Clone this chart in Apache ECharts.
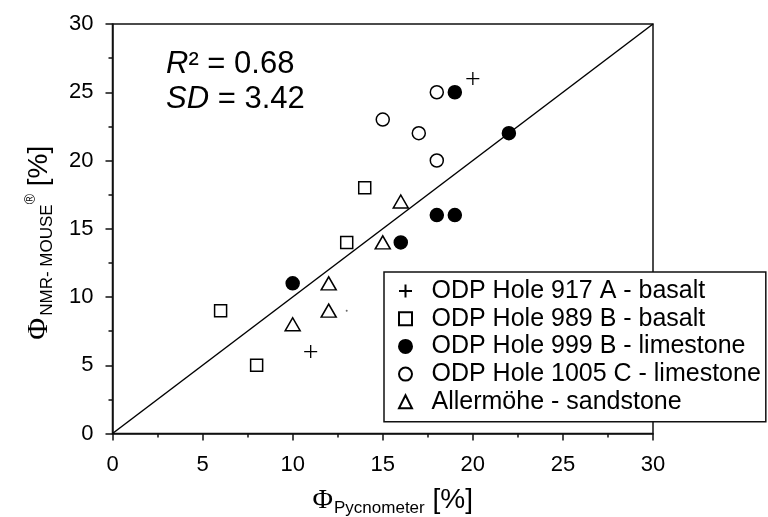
<!DOCTYPE html>
<html>
<head>
<meta charset="utf-8">
<script src="https://cdn.jsdelivr.net/npm/echarts@6/dist/echarts.min.js"></script>
<style>
  html, body { margin: 0; padding: 0; background: #fff; }
  #chart { width: 768px; height: 517px; }
</style>
</head>
<body>
<div id="chart"></div>
<script>
// Porosity from the pycnometer (x) against porosity from the NMR-MOUSE (y), in %
const seriesNames = [
  'ODP Hole 917 A - basalt',
  'ODP Hole 989 B - basalt',
  'ODP Hole 999 B - limestone',
  'ODP Hole 1005 C - limestone',
  'Allermöhe - sandstone'
];
const hole917A = [[20, 26], [11, 6]];
const hole989B = [[14, 18], [13, 14], [6, 9], [8, 5]];
const hole999B = [[19, 25], [22, 22], [18, 16], [19, 16], [16, 14], [10, 11]];
const hole1005C = [[18, 25], [15, 23], [17, 22], [18, 20]];
const allermoehe = [[16, 17], [15, 14], [12, 11], [12, 9], [10, 8]];
const strayDot = [[13, 9]];
const identityLine = [[0, 0], [30, 30]];
const statsLines = ['{i|R}² = 0.68', '{i|SD} = 3.42'];

const sans = 'Liberation Sans, Arial, sans-serif';
const serif = 'Liberation Serif, Times New Roman, serif';
const ink = '#111';

const plusPath = 'path://M0,5L10,5M5,0L5,10';

function scatter(name, data, symbol, size, fill, border) {
  return {
    name: name,
    type: 'scatter',
    data: data,
    symbol: symbol,
    symbolSize: size,
    z: 3,
    itemStyle: { color: fill, borderColor: '#000', borderWidth: border, opacity: 1 },
    emphasis: { disabled: true }
  };
}

const chart = echarts.init(document.getElementById('chart'), null, { renderer: 'canvas' });

const axisCommon = {
  type: 'value',
  min: 0,
  max: 30,
  interval: 5,
  splitLine: { show: false },
  axisLine: { show: true, onZero: false, lineStyle: { color: ink, width: 1.5 } },
  axisTick: { show: true, inside: false, length: 7, lineStyle: { color: ink, width: 1.5 } },
  minorTick: { show: true, splitNumber: 2, length: 4, lineStyle: { color: ink, width: 1.5 } },
  axisLabel: { color: '#000', fontSize: 22, fontFamily: sans },
  nameLocation: 'middle'
};

chart.setOption({
  animation: false,
  backgroundColor: '#fff',
  grid: {
    left: 112.5, right: 115, top: 24, bottom: 83.5,
    outerBoundsMode: 'none',
    containLabel: false,
    show: true, borderColor: ink, borderWidth: 1.5, backgroundColor: 'transparent'
  },
  title: {
    text: statsLines.join('\n'),
    left: 166,
    top: 47,
    padding: 0,
    textStyle: {
      fontSize: 31, fontFamily: sans, fontWeight: 'normal', color: '#000', lineHeight: 35,
      rich: { i: { fontStyle: 'italic', fontSize: 31, fontFamily: sans, color: '#000', lineHeight: 35 } }
    }
  },
  legend: {
    data: seriesNames,
    orient: 'vertical',
    left: 384,
    top: 272,
    padding: [6.5, 5, 7.5, 12.5],
    itemGap: 2.7,
    itemWidth: 13,
    itemHeight: 13,
    selectedMode: false,
    backgroundColor: '#fff',
    borderColor: ink,
    borderWidth: 1.5,
    borderRadius: 0,
    z: 10,
    textStyle: { fontSize: 25, fontFamily: sans, color: '#000', padding: [0, 0, 0, 14.5] }
  },
  xAxis: Object.assign({}, axisCommon, {
    axisLabel: Object.assign({}, axisCommon.axisLabel, { margin: 20 }),
    name: '{phi|Φ}{sub|Pycnometer}{br| [%]}',
    nameGap: 50,
    nameTextStyle: {
      padding: [0, 0, 0, 20],
      rich: {
        phi: { fontFamily: serif, fontSize: 28, color: '#000', lineHeight: 34 },
        sub: { fontFamily: sans, fontSize: 17, color: '#000', padding: [16, 0, 0, 1], lineHeight: 34 },
        br: { fontFamily: sans, fontSize: 28, color: '#000', lineHeight: 34 }
      }
    }
  }),
  yAxis: Object.assign({}, axisCommon, {
    axisLabel: Object.assign({}, axisCommon.axisLabel, { margin: 19 }),
    name: '{phi|Φ}{sub|NMR- MOUSE}{sup|®}{br| [%]}',
    nameGap: 56,
    nameRotate: 90,
    nameTextStyle: {
      padding: [0, 28, 0, 0],
      rich: {
        phi: { fontFamily: serif, fontSize: 30, color: '#000', lineHeight: 34 },
        sub: { fontFamily: sans, fontSize: 17, color: '#000', padding: [16, 0, 0, 2], lineHeight: 34 },
        sup: { fontFamily: sans, fontSize: 14, color: '#000', padding: [0, 0, 16, 0], lineHeight: 34 },
        br: { fontFamily: sans, fontSize: 28, color: '#000', lineHeight: 34 }
      }
    }
  }),
  series: [
    {
      name: 'identity',
      type: 'line',
      data: identityLine,
      showSymbol: false,
      symbol: 'none',
      z: 2,
      lineStyle: { color: '#000', width: 1.5 },
      emphasis: { disabled: true }
    },
    scatter(seriesNames[0], hole917A, plusPath, 13, 'none', 1.3),
    scatter(seriesNames[1], hole989B, 'rect', 12, 'rgba(255,255,255,0)', 1.5),
    scatter(seriesNames[2], hole999B, 'circle', 13, '#000', 1.5),
    scatter(seriesNames[3], hole1005C, 'circle', 13, 'rgba(255,255,255,0)', 1.5),
    scatter(seriesNames[4], allermoehe, 'triangle', [15, 13], 'rgba(255,255,255,0)', 1.5),
    {
      name: 'dot',
      type: 'scatter',
      data: strayDot,
      symbol: 'circle',
      symbolSize: 2,
      itemStyle: { color: '#444' },
      emphasis: { disabled: true }
    }
  ]
});
</script>
</body>
</html>
